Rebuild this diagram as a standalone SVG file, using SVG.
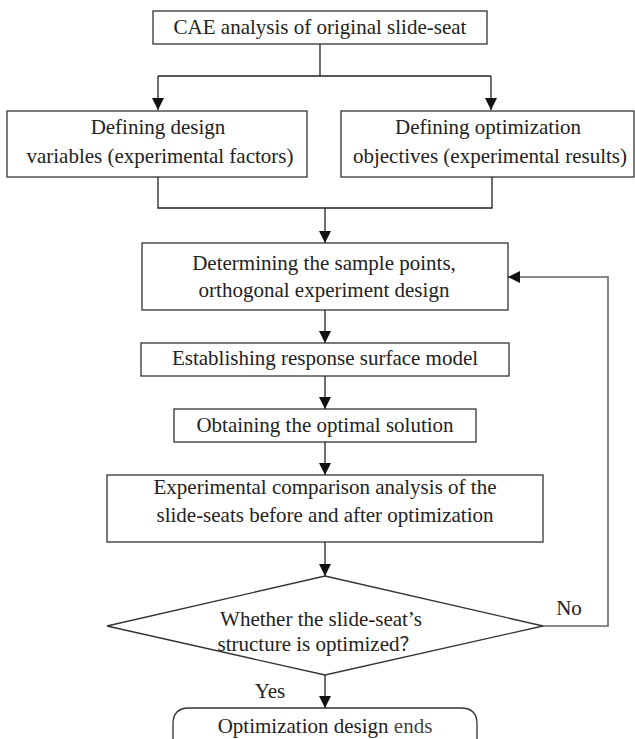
<svg xmlns="http://www.w3.org/2000/svg" width="635" height="739" viewBox="0 0 635 739">
<style>
.box{fill:#fff;stroke:#333;stroke-width:1.3}
.ln{fill:none;stroke:#222;stroke-width:1.3}
.fb{fill:none;stroke:#666;stroke-width:1.6}
.t{font-family:"Liberation Serif","DejaVu Serif",serif;font-size:21px;fill:#222;text-anchor:middle}
.cjk{font-family:"Noto Sans CJK SC",sans-serif;font-size:19px}
</style>
<defs>
<marker id="ah" markerUnits="userSpaceOnUse" markerWidth="12" markerHeight="12" refX="12" refY="6" orient="auto">
<path d="M0,0 L12,6 L0,12 z" fill="#111"/>
</marker>
</defs>
<rect width="635" height="739" fill="#fff"/>
<g id="connectors">
<path class="ln" d="M320,44 V76 M158,76 H491"/>
<path class="ln" d="M158,76 V110" marker-end="url(#ah)"/>
<path class="ln" d="M491,76 V110" marker-end="url(#ah)"/>
<path class="ln" d="M158,177 V208 H492 V177"/>
<path class="ln" d="M325,208 V243" marker-end="url(#ah)"/>
<path class="ln" d="M325,310 V343" marker-end="url(#ah)"/>
<path class="ln" d="M325,376 V409" marker-end="url(#ah)"/>
<path class="ln" d="M325,442 V475" marker-end="url(#ah)"/>
<path class="ln" d="M325,542 V576" marker-end="url(#ah)"/>
<path class="ln" d="M325,675 V708" marker-end="url(#ah)"/>
<path class="fb" d="M542,626 H608 V277 H520"/>
<path class="ln" d="M520,277 H508" marker-end="url(#ah)"/>
<text class="t" x="569" y="615">No</text>
<text class="t" x="270" y="698">Yes</text>
</g>
<g id="n1">
<rect class="box" x="153" y="11" width="334" height="33"/>
<text class="t" x="320" y="34">CAE analysis of original slide-seat</text>
</g>
<g id="n2">
<rect class="box" x="7" y="111" width="300" height="66"/>
<text class="t" x="158" y="134">Defining design</text>
<text class="t" x="160" y="163">variables (experimental factors)</text>
</g>
<g id="n3">
<rect class="box" x="341" y="111" width="293" height="66"/>
<text class="t" x="488" y="134">Defining optimization</text>
<text class="t" x="490" y="163">objectives (experimental results)</text>
</g>
<g id="n4">
<rect class="box" x="142" y="243" width="366" height="67"/>
<text class="t" x="324" y="270">Determining the sample points,</text>
<text class="t" x="324" y="297">orthogonal experiment design</text>
</g>
<g id="n5">
<rect class="box" x="141" y="343" width="368" height="33"/>
<text class="t" x="325" y="365">Establishing response surface model</text>
</g>
<g id="n6">
<rect class="box" x="174" y="409" width="302" height="33"/>
<text class="t" x="325" y="432">Obtaining the optimal solution</text>
</g>
<g id="n7">
<rect class="box" x="107" y="475" width="436" height="67"/>
<text class="t" x="325" y="494">Experimental comparison analysis of the</text>
<text class="t" x="325" y="522">slide-seats before and after optimization</text>
</g>
<g id="n8">
<polygon class="box" points="325,576 543,626 325,675 107,626"/>
<text class="t" x="321" y="626">Whether the slide-seat’s</text>
<text class="t" x="318" y="651">structure is optimized<tspan class="cjk">？</tspan></text>
</g>
<g id="n9">
<path class="box" d="M173,740 V724 Q173,708 189,708 H461 Q477,708 477,724 V740"/>
<text class="t" x="325" y="733">Optimization design <tspan fill="#444">ends</tspan></text>
</g>
</svg>
